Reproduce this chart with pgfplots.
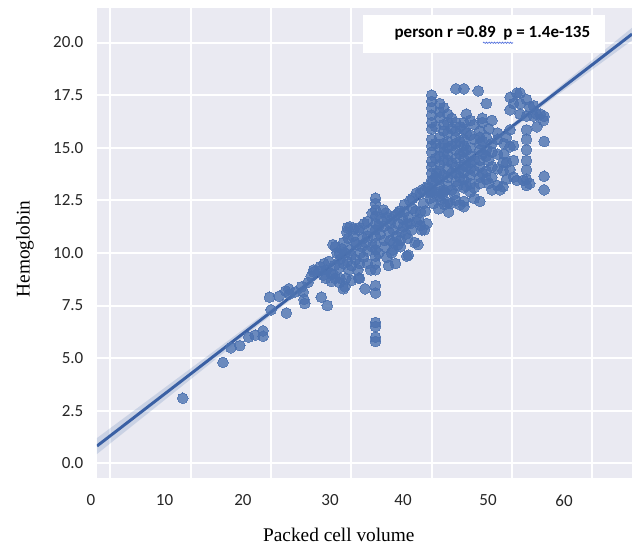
\documentclass[border=0pt]{standalone}
\usepackage{pgfplots}
\pgfplotsset{compat=1.18}
\usepackage{fontspec}
\setmainfont{Liberation Serif}
\newfontfamily\carlito{Carlito}
\usetikzlibrary{decorations.pathmorphing}
\definecolor{bgc}{HTML}{EAEAF2}
\definecolor{sb}{HTML}{4C72B0}
\definecolor{sbl}{HTML}{3A60A4}
\newcommand\sh[2]{\makebox[0pt]{\makebox[0pt]{#2}\hspace*{#1}}}
\begin{document}
\begin{tikzpicture}
\useasboundingbox (-72.75pt,-50.25pt) rectangle (401.25pt,358.5pt);
\begin{axis}[
  at={(0pt,0pt)}, anchor=south west,
  scale only axis, width=401.25pt, height=352.5pt,
  xmin=-1.68, xmax=64.94, ymin=-0.69, ymax=21.64,
  axis background/.style={fill=bgc},
  axis line style={draw=none},
  major tick length=0pt,
  grid=major, major grid style={white, line width=1.5pt},
  xtick={0,10,20,30,40,50,60},
  xticklabels={\sh{29.2pt}{0},\sh{39.4pt}{10},\sh{42.2pt}{20},\sh{32.1pt}{30},\sh{43pt}{40},\sh{36pt}{50},\sh{42.4pt}{60}},
  ytick={0,2.5,5,7.5,10,12.5,15,17.5,20},
  /pgf/number format/assume math mode=true,
  yticklabel style={/pgf/number format/fixed, /pgf/number format/fixed zerofill, /pgf/number format/precision=1, xshift=-6.75pt},
  xticklabel style={yshift=-9pt},
  tick label style={font=\carlito\fontsize{12.75}{15}\selectfont, text=black!85},
  xlabel={Packed cell volume},
  xlabel style={at={(axis description cs:0.452,-0.121)}, anchor=center, font=\fontsize{14.5}{17}\selectfont},
  ylabel={Hemoglobin},
  ylabel style={at={(axis description cs:-0.1346,0.487)}, anchor=center, font=\fontsize{14.5}{17}\selectfont},
]
\addplot[color=sb, only marks, mark=*, mark size=4pt, mark options={solid, fill=sb, draw=sb, line width=0pt}, opacity=0.8] table {
x y
9 3.1
14 4.8
15 5.5
16.1 5.6
17.2 6.0
18 6.1
19 6.3
19 6.05
20 7.3
21.9 7.15
19.8 7.9
21 7.95
21.8 8.2
22.2 8.3
22.3 8.05
23 8.15
23.8 8.4
24 8.15
24.1 7.8
24.2 7.6
24.6 8.6
25 8.9
25.3 9.1
26 9.15
26.5 8.95
26.25 7.9
27 7.5
26.8 8.8
27.5 9.0
27.5 8.65
28 8.8
28.5 8.6
29 8.3
29.3 8.8
30 8.7
31 8.8
25.3 9.2
26.1 9.35
26.9 9.2
27.7 9.0
27.7 10.4
28.2 10.0
28.6 9.7
28.6 8.8
28 10.3
28.5 10.0
29 10.5
29.2 10.0
29.2 8.4
29.5 11.2
29.8 10.15
29.8 11.25
29.4 11.0
30.2 10.8
30.3 11.15
30.9 11.1
31 11.2
30.45 10.5
31.1 10.0
31.3 10.3
30.9 8.8
31.7 8.3
28.5 9.3
29 9.5
29.5 9.6
30 9.4
30.5 9.7
30 9.9
29.7 9.2
31 9.5
31.5 9.8
32 9.5
32 10.1
32 10.8
32 11.5
32.2 11.1
31.8 10.5
32.4 9.2
30.6 10.4
31.4 10.7
31.6 11.4
32.6 11.9
32.6 10.3
33.4 10.0
33.4 11.3
34.3 11.9
34.7 11.0
35.3 10.5
35.8 11.9
36.4 11.6
36.8 10.9
37.3 11.4
38 12.0
38.4 11.6
39.2 12.0
39.4 11.4
40.0 12.9
40.5 12.9
29.6 10.7
30.8 9.2
27.2 9.6
26.6 9.5
27.9 9.4
28.8 10.2
33 12.6
33 12.35
33 12.05
33 11.75
33 11.4
33 11.1
33 10.8
33 10.45
33 10.15
33 9.85
33 9.5
33 9.2
33 8.45
33 8.1
33 6.7
33 6.5
33 6.0
33 5.8
34 12.05
34.4 11.7
34.8 11.4
34 11.25
35.2 11.1
35.6 10.8
36.1 10.6
36.5 11.25
34.8 10.6
34.2 10.3
35.2 10.15
34.4 9.8
33.6 10.9
33.7 11.6
34.1 10.6
35.0 10.0
35.5 9.5
34.6 9.4
36.9 11.4
37.5 11.1
38.75 11.1
37.9 10.5
36.9 9.85
36.1 10.3
35.8 10.4
37.1 9.9
38.6 11.3
39.1 11.1
38.1 11.5
37.6 12.1
38.6 11.95
36.6 12.3
37.6 12.6
38.1 12.85
38.8 13.0
39.6 13.1
37.3 12.5
38.55 12.85
39.4 13.15
40.2 13.45
39.8 12.85
40.6 13.8
40.2 12.35
38.96 12.35
39.8 12.6
36.6 11.95
37.1 11.7
35.5 11.8
36 12.0
35 11.6
36.2 11.0
35.8 11.4
37.0 10.7
38.3 10.4
40.85 12.1
41.35 12.8
41.6 12.3
41.1 12.55
42.1 11.95
41.5 12.9
42.5 13.0
43.2 13.2
42.8 12.8
40 17.5
40 17.2
40 16.9
40 16.55
40 16.2
40 15.9
40 15.4
40 15.1
40 14.8
40 14.35
40 14.1
40 13.8
40 13.45
40 13.0
40.5 16.0
40.5 15.2
40.5 14.5
40.5 13.6
41 17.1
41 16.7
41 16.45
41 15.5
41 15.0
41 14.6
41 14.2
41 13.9
41 13.5
41 13.2
41 12.7
41.5 15.8
41.5 14.4
41.5 13.0
41.5 16.9
41.5 16.1
41.5 15.2
41.5 14.8
41.5 13.7
42 16.6
42 16.2
42 15.7
42 15.3
42 15.0
42 14.7
42 14.4
42 14.0
42 13.6
42 13.2
42 12.4
42.3 12.35
42.5 16.4
42.5 15.9
42.5 15.1
42.5 14.3
42.5 13.8
43 17.8
43 16.2
43 15.8
43 15.5
43 15.2
43 14.9
43 14.5
43 14.1
43 13.8
43 13.4
43 12.5
43.5 16.0
43.5 15.3
43.5 14.7
43.5 14.0
43.5 13.6
43.5 12.3
44 17.8
44 16.2
44 15.9
44 15.4
44 15.1
44 14.8
44 14.5
44 14.2
44 13.8
44 13.5
44 13.1
44 12.45
44 12.2
44.3 16.6
44.3 15.7
44.3 14.9
44.3 14.1
44.3 13.2
44.8 16.3
44.8 15.6
44.8 15.0
44.8 14.6
44.8 14.3
44.8 14.0
44.8 13.7
44.8 13.3
44.8 12.9
45.3 16.1
45.3 15.4
45.3 14.4
45.3 13.9
45.3 13.1
45.8 17.7
46 15.8
46 15.5
46 15.2
46 14.9
46 14.4
46 14.1
46 13.6
46 13.3
45.3 12.6
46 12.45
46.3 16.4
46.3 16.2
46.3 15.3
46.3 14.7
46.3 13.8
46.8 17.1
46.8 15.5
46.8 14.9
46.8 14.6
46.8 13.9
46.8 13.5
47.1 15.9
47.1 14.4
47.1 13.3
47.5 16.3
47.5 15.2
47.5 14.8
47.5 14.1
47.5 13.6
47.5 13.0
48.2 15.4
48.2 15.7
48.2 14.7
48.2 14.0
48.2 13.2
48.9 13.9
48.9 13.15
48.9 14.3
48.5 13.0
49 15.2
49 14.7
49.3 15.5
49.3 14.3
49.3 13.5
49.75 17.4
49.75 16.8
49.75 15.85
49.75 15.05
49.75 13.95
50.2 17.1
50.2 15.1
50.2 14.4
50.2 13.6
50.6 17.6
50.6 13.45
51 17.1
51 16.6
51 17.6
51.4 13.45
51.8 17.3
51.8 16.5
51.8 15.85
51.8 15.4
51.8 14.9
51.8 14.4
51.8 13.95
51.8 13.5
51.8 13.2
52.2 16.95
52.2 13.3
52.7 17.0
52.7 16.5
53.1 16.6
53.1 16.0
53.5 16.6
53.9 16.3
54 16.5
54 15.3
54 13.65
54 13.0
};
\addplot[fill=sb, fill opacity=0.2, draw=none] coordinates {
(-1.68,1.21) (20,7.35) (38,12.56) (55,17.62) (64.94,20.70)
(64.94,20.10) (55,17.32) (38,12.40) (20,7.05) (-1.68,0.45)} -- cycle;
\addplot[sbl, line width=2.2pt] coordinates {(-1.68,0.83) (64.94,20.40)};
\fill[white] (axis description cs:0.497,0.904) rectangle (axis description cs:0.9495,0.985);
\node[font=\carlito\bfseries\fontsize{12.75}{15}\selectfont, anchor=center, inner sep=0pt] at (axis description cs:0.739,0.947) {person r =0.89\ \ p = 1.4e-135};
\draw[color={rgb,255:red,80;green,110;blue,220}, line width=0.5pt, decorate, decoration={snake, amplitude=0.5pt, segment length=2pt}] (axis description cs:0.7215,0.926) -- (axis description cs:0.7776,0.926);
\end{axis}
\end{tikzpicture}
\end{document}
